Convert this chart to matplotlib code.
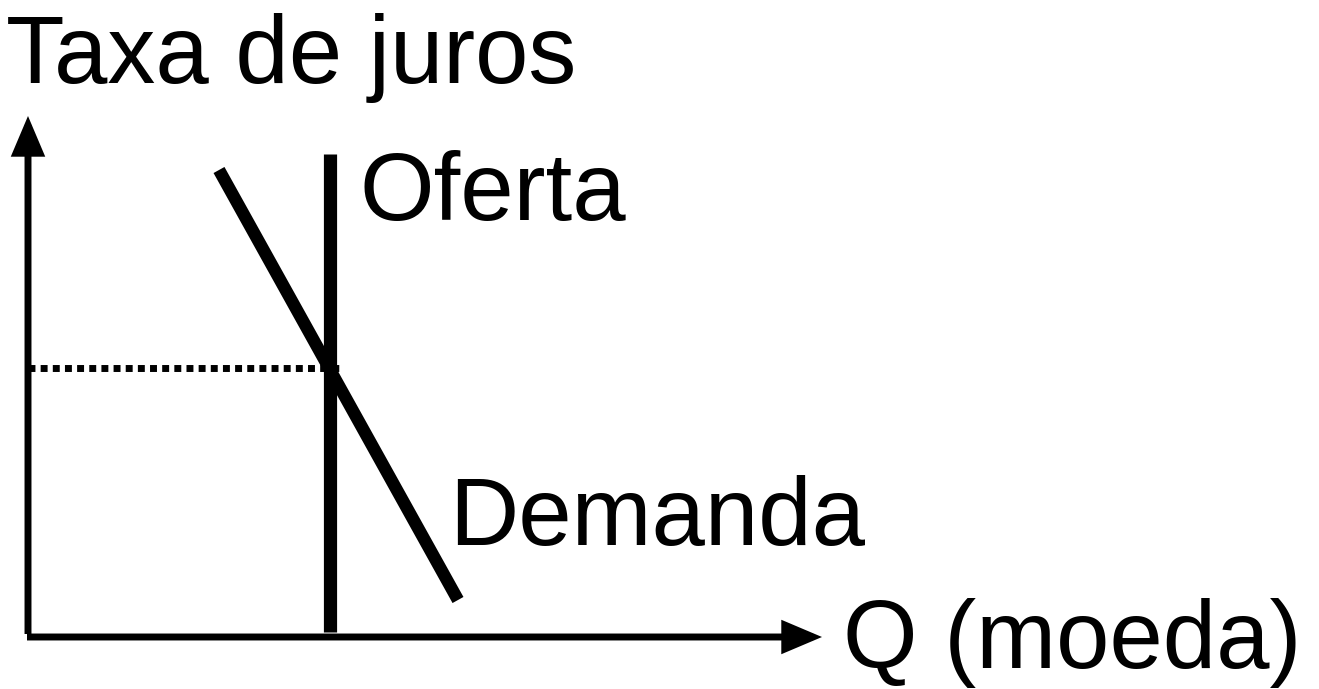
import matplotlib
matplotlib.use("Agg")
import matplotlib.pyplot as plt

# diagram geometry in pixel units (y grows downward)
axis_x = 28
axis_y = 637
x_axis_end = 822
y_axis_end = 116
supply_x = [330, 330]
supply_y = [154, 632]
demand_x = [219, 458]
demand_y = [170, 600]
equilibrium_y = 368

labels = {
    "Taxa de juros": (6, 83),
    "Oferta": (360, 220),
    "Demanda": (449, 545),
    "Q (moeda)": (843, 668),
}

fig = plt.figure(figsize=(13.19, 6.89), dpi=100)
ax = fig.add_axes([0, 0, 1, 1])
ax.set_xlim(0, 1319)
ax.set_ylim(689, 0)
ax.axis("off")

head = dict(arrowstyle="-|>,head_length=0.85,head_width=0.36", lw=5,
            color="black", mutation_scale=24, shrinkA=0, shrinkB=0,
            joinstyle="miter", capstyle="butt")
ax.annotate("", xy=(axis_x, y_axis_end), xytext=(axis_x, axis_y - 3),
            arrowprops=head)
ax.annotate("", xy=(x_axis_end, axis_y), xytext=(axis_x - 1, axis_y),
            arrowprops=head)

ax.plot(supply_x, supply_y, color="black", lw=9.5, solid_capstyle="butt")
ax.plot(demand_x, demand_y, color="black", lw=9, solid_capstyle="butt")
ax.plot([axis_x, supply_x[0] + 11], [equilibrium_y, equilibrium_y],
        color="black", lw=5, linestyle=(0, (1.0, 0.75)), dash_capstyle="butt")

for txt, (x, y) in labels.items():
    ax.text(x, y, txt, fontsize=69, family="Liberation Sans",
            ha="left", va="baseline", color="black")

fig.savefig("out.png", dpi=100)
